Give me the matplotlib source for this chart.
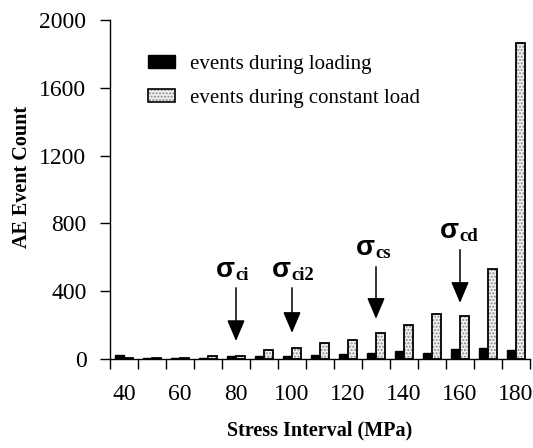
import matplotlib
matplotlib.use("Agg")
import matplotlib.pyplot as plt
from matplotlib.patches import Patch
from matplotlib.legend_handler import HandlerTuple
import numpy as np

plt.rcParams['font.family'] = ['Liberation Serif', 'DejaVu Serif']

stress = [40, 50, 60, 70, 80, 90, 100, 110, 120, 130, 140, 150, 160, 170, 180]
loading = [22, 3, 5, 5, 20, 20, 20, 25, 32, 35, 45, 37, 58, 62, 55]
constant = [3, 3, 8, 20, 20, 55, 65, 95, 115, 155, 202, 265, 252, 532, 1862]
tick_labels = [40, 60, 80, 100, 120, 140, 160, 180]
yticks = [0, 400, 800, 1200, 1600, 2000]

# annotations: (subscript, stress value, text baseline y, arrow top, arrow tip)
annots = [
    ("ci", 80, 485, 420, 106),
    ("ci2", 100, 485, 420, 154),
    ("cs", 130, 615, 544, 237),
    ("cd", 160, 716, 645, 331),
]

fig = plt.figure(figsize=(5.33, 4.48), dpi=100)
ax = fig.add_axes([110/533, 1-359/448, 420/533, 339/448])

x = np.arange(len(stress))
w = 0.32
ax.bar(x - w/2, loading, width=w, color='black', edgecolor='black', linewidth=1.0, zorder=2)
ax.bar(x + w/2, constant, width=w, color='#f2f2f2', edgecolor='#8a8a8a', hatch='.....', linewidth=0, zorder=2)
ax.bar(x + w/2, constant, width=w, facecolor='none', edgecolor='black', linewidth=1.3, zorder=3)

ax.set_xlim(-0.5, len(stress) - 0.5)
ax.set_ylim(0, 2000)
ax.set_yticks(yticks)
ax.set_yticklabels([str(v) for v in yticks], fontsize=17)

ax.set_xticks(np.arange(-0.5, len(stress), 1.0))
ax.set_xticklabels([])
ax.set_xticks([stress.index(v) for v in tick_labels], minor=True)
ax.set_xticklabels([str(v) for v in tick_labels], minor=True, fontsize=17)
ax.tick_params(axis='x', which='major', direction='out', length=7, width=1)
ax.tick_params(axis='x', which='minor', length=0, pad=18)
ax.tick_params(axis='y', direction='out', length=7, width=1, pad=10)

for s in ['top', 'right']:
    ax.spines[s].set_visible(False)
for s in ['left', 'bottom']:
    ax.spines[s].set_linewidth(1.0)

ax.set_xlabel('Stress Interval (MPa)', fontsize=14.5, fontweight='bold', labelpad=11)
ax.set_ylabel('AE Event Count', fontsize=14.5, fontweight='bold')
ax.yaxis.set_label_coords(-0.185, 0.537)

for sub, sv, ty, atop, atip in annots:
    xi = stress.index(sv)
    ax.annotate('', xy=(xi, atip), xytext=(xi, atop),
                arrowprops=dict(arrowstyle='-|>,head_length=1.3,head_width=0.55',
                                color='black', lw=1.1, shrinkA=0, shrinkB=0))
    ax.annotate('σ', xy=(xi, ty), xytext=(-0.5, 0), textcoords='offset points',
                ha='right', va='baseline', fontsize=20, fontweight='bold',
                family=['Liberation Sans', 'DejaVu Sans'])
    ax.annotate(sub, xy=(xi, ty), xytext=(-0.5, -2.5), textcoords='offset points',
                ha='left', va='baseline', fontsize=13.5, fontweight='bold')

h1 = Patch(facecolor='black', edgecolor='black')
h2a = Patch(facecolor='#f2f2f2', edgecolor='#8a8a8a', hatch='.....', linewidth=0)
h2b = Patch(facecolor='none', edgecolor='black', linewidth=1.2)
ax.legend([h1, (h2a, h2b)], ['events during loading', 'events during constant load'],
          handler_map={tuple: HandlerTuple(ndivide=1)},
          loc='upper left', bbox_to_anchor=(148/533, 1-55/448), bbox_transform=fig.transFigure,
          frameon=False, fontsize=15, handlelength=1.3, handleheight=0.58,
          handletextpad=0.7, labelspacing=0.72, borderpad=0, borderaxespad=0)

fig.savefig('out.png', dpi=100)
